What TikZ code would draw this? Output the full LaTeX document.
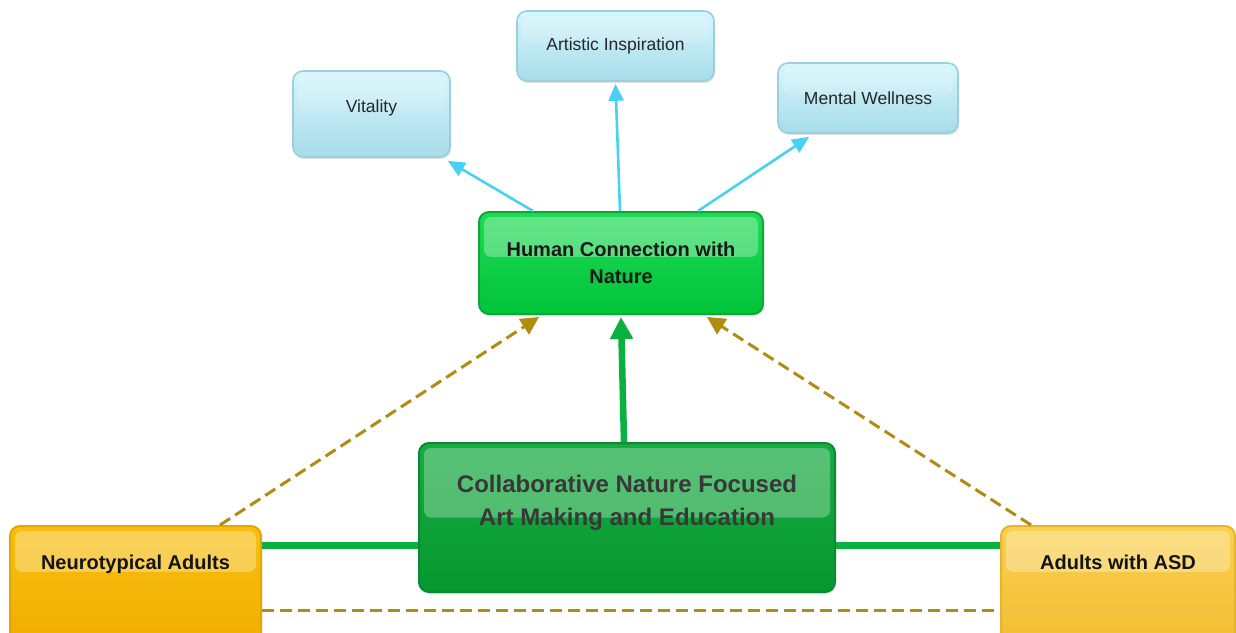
\documentclass[tikz,border=0pt]{standalone}
\usepackage{fontspec}
\setmainfont{Liberation Sans}
\usepackage{xcolor}
\usepackage{tikz}
\usetikzlibrary{arrows.meta,shadows,calc}

\definecolor{skytop}{HTML}{D8F6FC}
\definecolor{skybot}{HTML}{A6DCEA}
\definecolor{skyline}{HTML}{9CCFDD}
\definecolor{cyanarrow}{HTML}{48D2F2}
\definecolor{leaftop}{HTML}{1EDC55}
\definecolor{leafbot}{HTML}{00C43A}
\definecolor{leafline}{HTML}{12A63A}
\definecolor{foresttop}{HTML}{18AC42}
\definecolor{forestbot}{HTML}{06982F}
\definecolor{forestline}{HTML}{0A8A32}
\definecolor{linkgreen}{HTML}{0AB040}
\definecolor{goldtop}{HTML}{F8BE10}
\definecolor{goldbot}{HTML}{F0AE00}
\definecolor{goldline}{HTML}{E2A800}
\definecolor{sandtop}{HTML}{F9D050}
\definecolor{sandbot}{HTML}{F2BC30}
\definecolor{sandline}{HTML}{E6B430}
\definecolor{ochre}{HTML}{B08C12}

\tikzset{
  gloss/.style args={#1/#2}{path picture={\fill[white,opacity=#2,rounded corners=7pt]
      ([xshift=5pt,yshift=-5pt]path picture bounding box.north west) rectangle
      ($(path picture bounding box.north east)!#1!(path picture bounding box.south east)+(-5pt,0)$);}},
  box/.style={rounded corners=10pt,line width=2pt,inner sep=0pt,
      drop shadow={opacity=0.22,shadow xshift=1pt,shadow yshift=-2pt}},
  idea/.style={box,line width=1.6pt,draw=skyline,top color=skytop,bottom color=skybot,
      text=black!85,font=\fontsize{17.5}{21}\selectfont,gloss=0.45/0.15},
  hub/.style={box,draw=leafline,top color=leaftop,bottom color=leafbot,
      text=black!90,font=\fontsize{20}{27}\selectfont\bfseries,gloss=0.44/0.3},
  core/.style={box,draw=forestline,top color=foresttop,bottom color=forestbot,
      text=black!78,font=\fontsize{24}{33}\selectfont\bfseries,gloss=0.5/0.28},
  group/.style={box,font=\fontsize{20}{24}\selectfont\bfseries,text=black!92,
      text height=14pt,text depth=51pt,minimum width=#1,minimum height=124pt,gloss=0.37/0.3},
  feed/.style={cyanarrow,line width=2.6pt,-{Triangle[length=17pt,width=15pt]}},
  lift/.style={linkgreen,line width=6.5pt,-{Triangle[length=22pt,width=22pt]}},
  hint/.style={ochre,line width=3pt,dash pattern=on 12pt off 6pt},
  bond/.style={linkgreen,line width=7pt}
}

\begin{document}
\begin{tikzpicture}[x=1pt,y=-1pt]
      \useasboundingbox (0,0) rectangle (1236,632);

      \node[idea,minimum width=157pt,minimum height=86pt,text height=13pt,text depth=17pt] (vit) at (371.5,114) {Vitality};
      \node[idea,minimum width=197pt,minimum height=70pt] (art) at (615.5,46) {Artistic Inspiration};
      \node[idea,minimum width=180pt,minimum height=70pt] (mw) at (868,98) {Mental Wellness};

      \node[hub,align=center,minimum width=284pt,minimum height=102pt] (hc) at (621,263) {Human Connection with\\Nature};

      \node[core,minimum width=416pt,minimum height=149pt,text height=30pt,text depth=48pt] (cf) at (627,517.5)
        {\begin{tabular}{@{}c@{}}Collaborative Nature Focused\\Art Making and Education\end{tabular}};

      \node[group=251pt,draw=goldline,top color=goldtop,bottom color=goldbot] (nt) at (135.5,588) {Neurotypical Adults};
      \node[group=234pt,draw=sandline,top color=sandtop,bottom color=sandbot] (asd) at (1118,588) {Adults with ASD};

      \draw[feed] ([xshift=-88pt]hc.north) -- ([xshift=-3pt,yshift=-3pt]vit.south east);
      \draw[feed] ([xshift=-1pt]hc.north) -- ([yshift=-2pt]art.south);
      \draw[feed] ([xshift=77pt]hc.north) -- ([xshift=32pt,yshift=-3pt]mw.south west);

      \draw[lift] ([xshift=-3pt]cf.north) -- ([yshift=-2pt]hc.south);

      \draw[hint,-{Triangle[length=18pt,width=18pt]}] ([xshift=-42pt]nt.north east) -- ([xshift=61pt,yshift=-2pt]hc.south west);
      \draw[hint,-{Triangle[length=18pt,width=18pt]}] ([xshift=31pt]asd.north west) -- ([xshift=-57pt,yshift=-2pt]hc.south east);

      \coordinate (ntlink) at ([yshift=-20pt]nt.north east);
      \coordinate (asdlink) at ([yshift=-20pt]asd.north west);
      \draw[bond] (ntlink) -- (ntlink -| cf.west);
      \draw[bond] (cf.east |- asdlink) -- (asdlink);

      \coordinate (ntbase) at ([yshift=-85pt]nt.north east);
      \draw[hint] (ntbase) -- (ntbase -| asd.west);
\end{tikzpicture}
\end{document}
